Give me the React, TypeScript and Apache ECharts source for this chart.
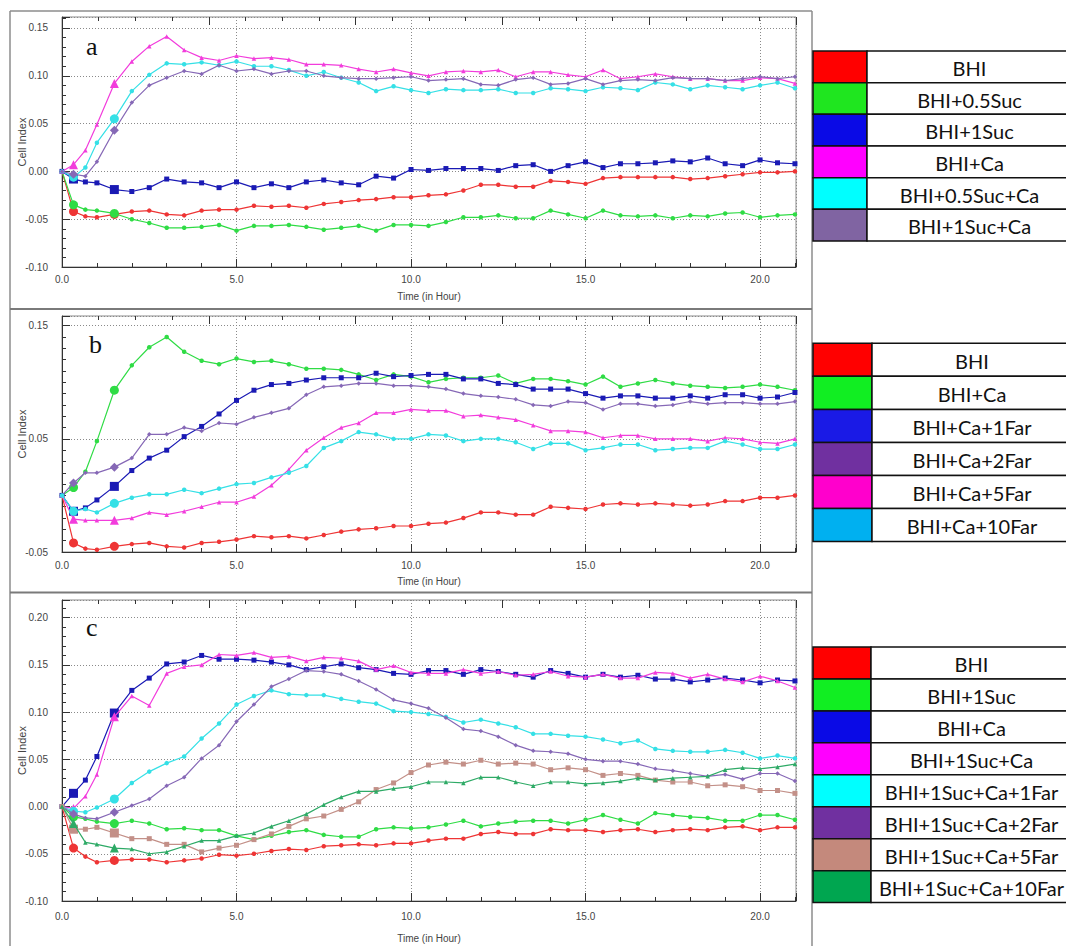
import React, { useEffect, useRef } from "react";
import * as echarts from "echarts";

// ---------------- data ----------------
const TIME = [0, 0.33, 0.67, 1, 1.5, 2, 2.5, 3, 3.5, 4, 4.5, 5, 5.5, 6, 6.5, 7, 7.5, 8, 8.5, 9, 9.5, 10,
  10.5, 11, 11.5, 12, 12.5, 13, 13.5, 14, 14.5, 15, 15.5, 16, 16.5, 17, 17.5, 18, 18.5, 19, 19.5, 20, 20.5, 21];

const X_TICKS = ["0.0", "5.0", "10.0", "15.0", "20.0"];

// Panel a
const A_NAMES = ["BHI", "BHI+0.5Suc", "BHI+1Suc", "BHI+Ca", "BHI+0.5Suc+Ca", "BHI+1Suc+Ca"];
const A_BHI = [0, -0.042, -0.047, -0.048, -0.045, -0.042, -0.041, -0.045, -0.046, -0.041, -0.040, -0.040, -0.036, -0.037, -0.036, -0.038, -0.034, -0.032, -0.030, -0.029, -0.027, -0.027,
  -0.025, -0.024, -0.020, -0.014, -0.014, -0.016, -0.016, -0.010, -0.011, -0.013, -0.007, -0.006, -0.006, -0.006, -0.006, -0.008, -0.007, -0.005, -0.003, -0.001, -0.001, 0.000];
const A_05SUC = [0, -0.035, -0.040, -0.041, -0.044, -0.050, -0.054, -0.059, -0.059, -0.058, -0.056, -0.062, -0.057, -0.057, -0.056, -0.058, -0.061, -0.059, -0.057, -0.062, -0.056, -0.056,
  -0.057, -0.053, -0.048, -0.048, -0.046, -0.049, -0.049, -0.041, -0.045, -0.049, -0.041, -0.046, -0.047, -0.046, -0.049, -0.046, -0.047, -0.044, -0.043, -0.048, -0.046, -0.045];
const A_1SUC = [0, -0.008, -0.011, -0.012, -0.019, -0.021, -0.017, -0.008, -0.011, -0.012, -0.017, -0.011, -0.017, -0.013, -0.017, -0.011, -0.009, -0.012, -0.014, -0.005, -0.007, 0.002,
  0.001, 0.003, 0.003, 0.003, 0.001, 0.006, 0.007, 0.000, 0.006, 0.010, 0.004, 0.008, 0.008, 0.009, 0.011, 0.010, 0.014, 0.008, 0.006, 0.012, 0.009, 0.008];
const A_CA = [0, 0.007, 0.022, 0.049, 0.092, 0.115, 0.131, 0.141, 0.127, 0.119, 0.116, 0.121, 0.118, 0.119, 0.117, 0.112, 0.112, 0.111, 0.107, 0.104, 0.107, 0.103,
  0.100, 0.104, 0.105, 0.104, 0.106, 0.099, 0.104, 0.104, 0.101, 0.099, 0.106, 0.097, 0.099, 0.102, 0.099, 0.097, 0.097, 0.095, 0.095, 0.098, 0.097, 0.092];
const A_05SUCCA = [0, -0.006, 0.004, 0.030, 0.055, 0.084, 0.101, 0.113, 0.112, 0.114, 0.111, 0.115, 0.110, 0.110, 0.106, 0.100, 0.104, 0.098, 0.093, 0.084, 0.089, 0.085,
  0.082, 0.086, 0.085, 0.085, 0.086, 0.082, 0.082, 0.087, 0.086, 0.084, 0.088, 0.087, 0.085, 0.093, 0.091, 0.086, 0.090, 0.088, 0.086, 0.090, 0.093, 0.087];
const A_1SUCCA = [0, -0.003, -0.005, 0.010, 0.043, 0.072, 0.090, 0.098, 0.105, 0.102, 0.111, 0.105, 0.107, 0.102, 0.105, 0.105, 0.100, 0.098, 0.097, 0.097, 0.098, 0.099,
  0.095, 0.096, 0.097, 0.091, 0.090, 0.096, 0.098, 0.091, 0.092, 0.097, 0.091, 0.095, 0.096, 0.095, 0.098, 0.097, 0.097, 0.095, 0.097, 0.099, 0.097, 0.099];

// Panel b
const B_NAMES = ["BHI", "BHI+Ca", "BHI+Ca+1Far", "BHI+Ca+2Far", "BHI+Ca+5Far", "BHI+Ca+10Far"];
const B_BHI = [0, -0.042, -0.047, -0.048, -0.045, -0.043, -0.042, -0.045, -0.046, -0.042, -0.041, -0.039, -0.036, -0.037, -0.036, -0.038, -0.035, -0.032, -0.030, -0.029, -0.027, -0.027,
  -0.025, -0.024, -0.020, -0.015, -0.015, -0.017, -0.017, -0.010, -0.011, -0.012, -0.008, -0.007, -0.008, -0.007, -0.008, -0.009, -0.008, -0.005, -0.005, -0.002, -0.002, 0.000];
const B_CA = [0, 0.007, 0.021, 0.048, 0.093, 0.115, 0.131, 0.140, 0.127, 0.119, 0.116, 0.121, 0.118, 0.119, 0.116, 0.112, 0.112, 0.111, 0.107, 0.102, 0.107, 0.105,
  0.100, 0.103, 0.104, 0.104, 0.106, 0.099, 0.103, 0.103, 0.101, 0.098, 0.105, 0.096, 0.099, 0.102, 0.099, 0.097, 0.096, 0.095, 0.096, 0.098, 0.096, 0.093];
const B_1FAR = [0, -0.014, -0.011, -0.004, 0.008, 0.022, 0.033, 0.040, 0.052, 0.061, 0.072, 0.084, 0.093, 0.098, 0.099, 0.102, 0.104, 0.104, 0.104, 0.108, 0.105, 0.106,
  0.107, 0.107, 0.103, 0.103, 0.099, 0.098, 0.094, 0.094, 0.094, 0.090, 0.086, 0.088, 0.088, 0.086, 0.086, 0.088, 0.086, 0.089, 0.089, 0.086, 0.087, 0.091];
const B_2FAR = [0, 0.011, 0.020, 0.020, 0.025, 0.033, 0.054, 0.054, 0.060, 0.057, 0.064, 0.063, 0.069, 0.073, 0.077, 0.089, 0.096, 0.097, 0.099, 0.099, 0.097, 0.097,
  0.096, 0.094, 0.090, 0.088, 0.087, 0.085, 0.080, 0.079, 0.083, 0.082, 0.076, 0.081, 0.081, 0.079, 0.080, 0.083, 0.081, 0.082, 0.082, 0.081, 0.081, 0.083];
const B_5FAR = [0, -0.021, -0.022, -0.022, -0.022, -0.020, -0.015, -0.017, -0.014, -0.010, -0.006, -0.006, -0.001, 0.009, 0.023, 0.040, 0.051, 0.060, 0.064, 0.073, 0.073, 0.076,
  0.075, 0.075, 0.070, 0.071, 0.069, 0.067, 0.062, 0.057, 0.057, 0.056, 0.051, 0.053, 0.053, 0.050, 0.050, 0.050, 0.048, 0.051, 0.050, 0.047, 0.046, 0.050];
const B_10FAR = [0, -0.014, -0.012, -0.015, -0.007, -0.002, 0.001, 0.001, 0.005, 0.002, 0.006, 0.010, 0.011, 0.016, 0.020, 0.026, 0.042, 0.048, 0.056, 0.054, 0.050, 0.050,
  0.054, 0.053, 0.048, 0.050, 0.050, 0.047, 0.041, 0.046, 0.046, 0.040, 0.042, 0.045, 0.045, 0.040, 0.041, 0.042, 0.042, 0.048, 0.045, 0.041, 0.041, 0.045];

// Panel c
const C_NAMES = ["BHI", "BHI+1Suc", "BHI+Ca", "BHI+1Suc+Ca", "BHI+1Suc+Ca+1Far", "BHI+1Suc+Ca+2Far", "BHI+1Suc+Ca+5Far", "BHI+1Suc+Ca+10Far"];
const C_BHI = [0, -0.044, -0.053, -0.059, -0.057, -0.056, -0.056, -0.059, -0.057, -0.055, -0.051, -0.052, -0.050, -0.047, -0.045, -0.046, -0.042, -0.041, -0.040, -0.041, -0.039, -0.039,
  -0.036, -0.034, -0.034, -0.029, -0.027, -0.029, -0.029, -0.024, -0.025, -0.025, -0.027, -0.025, -0.024, -0.027, -0.025, -0.024, -0.025, -0.022, -0.021, -0.025, -0.022, -0.022];
const C_1SUC = [0, -0.011, -0.013, -0.016, -0.018, -0.015, -0.018, -0.024, -0.023, -0.025, -0.025, -0.031, -0.035, -0.031, -0.027, -0.025, -0.030, -0.032, -0.032, -0.024, -0.022, -0.023,
  -0.022, -0.019, -0.015, -0.021, -0.018, -0.016, -0.015, -0.015, -0.018, -0.014, -0.009, -0.014, -0.018, -0.007, -0.009, -0.011, -0.012, -0.015, -0.015, -0.009, -0.009, -0.014];
const C_CA = [0, 0.014, 0.028, 0.053, 0.099, 0.123, 0.136, 0.151, 0.153, 0.160, 0.156, 0.156, 0.155, 0.153, 0.150, 0.145, 0.148, 0.151, 0.147, 0.145, 0.141, 0.140,
  0.144, 0.144, 0.140, 0.145, 0.143, 0.140, 0.137, 0.144, 0.141, 0.137, 0.140, 0.137, 0.139, 0.135, 0.135, 0.132, 0.134, 0.136, 0.134, 0.131, 0.134, 0.133];
const C_1SUCCA = [0, -0.002, 0.011, 0.034, 0.095, 0.117, 0.107, 0.141, 0.148, 0.150, 0.161, 0.160, 0.163, 0.158, 0.159, 0.154, 0.158, 0.157, 0.154, 0.145, 0.149, 0.142,
  0.141, 0.141, 0.145, 0.141, 0.143, 0.139, 0.140, 0.143, 0.138, 0.137, 0.140, 0.136, 0.136, 0.142, 0.141, 0.136, 0.140, 0.135, 0.132, 0.138, 0.133, 0.126];
const C_1FAR = [0, -0.005, -0.006, -0.001, 0.008, 0.025, 0.037, 0.046, 0.053, 0.072, 0.088, 0.108, 0.117, 0.123, 0.119, 0.118, 0.118, 0.114, 0.111, 0.109, 0.101, 0.100,
  0.098, 0.095, 0.089, 0.092, 0.088, 0.084, 0.077, 0.077, 0.075, 0.074, 0.071, 0.067, 0.070, 0.061, 0.059, 0.058, 0.058, 0.060, 0.057, 0.051, 0.054, 0.051];
const C_2FAR = [0, -0.008, -0.012, -0.013, -0.006, 0.001, 0.008, 0.022, 0.031, 0.051, 0.065, 0.090, 0.108, 0.127, 0.135, 0.144, 0.143, 0.140, 0.133, 0.124, 0.113, 0.109,
  0.104, 0.094, 0.082, 0.080, 0.074, 0.065, 0.059, 0.058, 0.056, 0.050, 0.048, 0.048, 0.045, 0.040, 0.038, 0.035, 0.032, 0.034, 0.029, 0.035, 0.035, 0.027];
const C_5FAR = [0, -0.024, -0.024, -0.022, -0.028, -0.034, -0.034, -0.040, -0.040, -0.048, -0.044, -0.041, -0.035, -0.029, -0.021, -0.013, -0.010, -0.003, 0.005, 0.018, 0.025, 0.036,
  0.044, 0.047, 0.045, 0.049, 0.045, 0.046, 0.045, 0.039, 0.041, 0.039, 0.033, 0.035, 0.033, 0.028, 0.026, 0.026, 0.022, 0.023, 0.021, 0.017, 0.017, 0.014];
const C_10FAR = [0, -0.018, -0.038, -0.040, -0.044, -0.045, -0.050, -0.048, -0.042, -0.036, -0.036, -0.031, -0.028, -0.021, -0.015, -0.008, 0.002, 0.010, 0.016, 0.016, 0.019, 0.021,
  0.026, 0.026, 0.025, 0.031, 0.031, 0.026, 0.022, 0.026, 0.026, 0.024, 0.025, 0.027, 0.030, 0.028, 0.030, 0.031, 0.032, 0.039, 0.041, 0.040, 0.042, 0.045];

const PANEL_LETTERS = ["a", "b", "c"];

// ---------------- styles ----------------
const RED = "#EE3535";
const GREEN = "#2FDC45";
const BLUE = "#1A1AB4";
const MAGENTA = "#F23CDC";
const CYAN = "#35E0E6";
const PURPLE = "#8668B6";
const BROWN = "#C39088";
const DKGREEN = "#2EAA66";

const PANELS = [
  {
    names: A_NAMES,
    values: [A_BHI, A_05SUC, A_1SUC, A_CA, A_05SUCCA, A_1SUCCA],
    lines: [RED, GREEN, BLUE, MAGENTA, CYAN, PURPLE],
    symbols: ["circle", "circle", "rect", "triangle", "circle", "diamond"],
    legend: ["#FF0000", "#1FE61F", "#0A0AE6", "#FF00FF", "#00FFFF", "#8064A2"],
    grid: { left: 62, top: 17, width: 734, height: 250 },
    yMin: -0.1, yMax: 0.1615, yStep: 0.05, yMinor: 5,
    labelMargin: 7, nameGap: 24,
    letter: { x: 86, y: 46 },
    table: { y0: 51, h: 31.67, colRight: 867 },
  },
  {
    names: B_NAMES,
    values: [B_BHI, B_CA, B_1FAR, B_2FAR, B_5FAR, B_10FAR],
    lines: [RED, GREEN, BLUE, PURPLE, MAGENTA, CYAN],
    symbols: ["circle", "circle", "rect", "diamond", "triangle", "circle"],
    legend: ["#FF0000", "#11EE22", "#1A1AE6", "#7030A0", "#FF00CC", "#00B0F0"],
    grid: { left: 62, top: 316, width: 734, height: 236 },
    yMin: -0.05, yMax: 0.1586, yStep: 0.1, yMinor: 10,
    labelMargin: 8, nameGap: 24,
    letter: { x: 89, y: 344 },
    table: { y0: 343.3, h: 33.05, colRight: 872 },
  },
  {
    names: C_NAMES,
    values: [C_BHI, C_1SUC, C_CA, C_1SUCCA, C_1FAR, C_2FAR, C_5FAR, C_10FAR],
    lines: [RED, GREEN, BLUE, MAGENTA, CYAN, PURPLE, BROWN, DKGREEN],
    symbols: ["circle", "circle", "rect", "triangle", "circle", "diamond", "rect", "triangle"],
    legend: ["#FF0000", "#11EE22", "#0A0AE6", "#FF00FF", "#00FFFF", "#7030A0", "#C4897C", "#00A650"],
    grid: { left: 62, top: 600, width: 734, height: 301 },
    yMin: -0.1, yMax: 0.2187, yStep: 0.05, yMinor: 5,
    labelMargin: 10, nameGap: 32,
    letter: { x: 86, y: 627 },
    table: { y0: 647, h: 31.95, colRight: 871 },
  },
];

const X_MAX = 21.03;
const TABLE_RIGHT = 1072;
const AXIS_FONT = "'Liberation Sans', Arial, sans-serif";
const TICK = { color: "#333", width: 1 };

function stepLabel(base: number, step: number, digits: number) {
  return (v: number) => {
    const r = (v - base) / step;
    return Math.abs(r - Math.round(r)) < 1e-6 ? v.toFixed(digits) : "";
  };
}

function buildOption() {
  const grid: any[] = [];
  const xAxis: any[] = [];
  const yAxis: any[] = [];
  const series: any[] = [];
  const graphic: any[] = [];

  PANELS.forEach((p, i) => {
    grid.push({
      ...p.grid,
      show: true,
      borderColor: "#8a8a8a",
      borderWidth: 1,
    });
    xAxis.push({
      type: "value",
      gridIndex: i,
      position: "bottom",
      min: 0,
      max: X_MAX,
      interval: 5,
      axisLine: { show: true, onZero: false, lineStyle: { color: "#333", width: 1 } },
      axisTick: { show: true, inside: true, length: 8, lineStyle: TICK },
      minorTick: { show: true, splitNumber: 5, length: 4, lineStyle: TICK },
      axisLabel: {
        margin: p.labelMargin,
        fontSize: 10,
        color: "#444",
        fontFamily: AXIS_FONT,
        formatter: (v: number) => {
          const idx = Math.round(v / 5);
          return Math.abs(v - idx * 5) < 1e-6 && idx < X_TICKS.length ? X_TICKS[idx] : "";
        },
      },
      splitLine: { show: true, lineStyle: { color: "#8a8a8a", type: [1, 2], width: 1 } },
      name: "Time (in Hour)",
      nameLocation: "middle",
      nameGap: p.nameGap,
      nameMoveOverlap: false,
      nameTextStyle: { fontSize: 10, color: "#444", fontFamily: AXIS_FONT },
    });
    yAxis.push({
      type: "value",
      gridIndex: i,
      min: p.yMin,
      max: p.yMax,
      interval: p.yStep,
      axisLine: { show: true, onZero: false, lineStyle: { color: "#333", width: 1 } },
      axisTick: { show: true, inside: true, length: 8, lineStyle: TICK },
      minorTick: { show: true, splitNumber: p.yMinor, length: 4, lineStyle: TICK },
      axisLabel: {
        margin: 14,
        fontSize: 10,
        color: "#444",
        fontFamily: AXIS_FONT,
        formatter: stepLabel(p.yMin, p.yStep, 2),
      },
      splitLine: { show: true, lineStyle: { color: "#8a8a8a", type: [1, 2], width: 1 } },
      name: "Cell Index",
      nameLocation: "middle",
      nameGap: 35,
      nameMoveOverlap: false,
      nameTextStyle: { fontSize: 11, color: "#444", fontFamily: AXIS_FONT },
    });
  });

  // top (secondary) axes, ticks only
  PANELS.forEach((p, i) => {
    xAxis.push({
      type: "value",
      gridIndex: i,
      position: "top",
      min: 0,
      max: 20,
      interval: 4,
      axisLine: { show: false, onZero: false },
      axisTick: { show: true, inside: true, length: 8, lineStyle: TICK },
      minorTick: { show: true, splitNumber: 4, length: 4, lineStyle: TICK },
      axisLabel: { show: false },
      splitLine: { show: false },
    });
  });

  PANELS.forEach((p, i) => {
    p.values.forEach((vals, k) => {
      series.push({
        type: "line",
        name: p.names[k],
        xAxisIndex: i,
        yAxisIndex: i,
        data: TIME.map((t, j) => [t, vals[j]]),
        symbol: p.symbols[k],
        symbolSize: (_v: any, prm: any) =>
          prm.dataIndex === 1 || prm.dataIndex === 4 ? 9 : p.symbols[k] === "rect" ? 5 : 4.5,
        showSymbol: true,
        lineStyle: { color: p.lines[k], width: 1.2 },
        itemStyle: { color: p.lines[k] },
        emphasis: { disabled: true },
        z: 2 + k,
      });
    });
  });

  // frames
  const frame = "#8c8c8c";
  graphic.push(
    { type: "line", shape: { x1: 10, y1: 11, x2: 812, y2: 11 }, style: { stroke: frame, lineWidth: 1.5 } },
    { type: "line", shape: { x1: 10, y1: 11, x2: 10, y2: 946 }, style: { stroke: frame, lineWidth: 1.5 } },
    { type: "line", shape: { x1: 812, y1: 11, x2: 812, y2: 946 }, style: { stroke: frame, lineWidth: 1.5 } },
    { type: "line", shape: { x1: 10, y1: 309, x2: 812, y2: 309 }, style: { stroke: "#7a7a7a", lineWidth: 2 } },
    { type: "line", shape: { x1: 10, y1: 592.5, x2: 812, y2: 592.5 }, style: { stroke: "#7a7a7a", lineWidth: 2 } }
  );

  // panel letters and legend tables
  PANELS.forEach((p, i) => {
    graphic.push({
      type: "text",
      x: p.letter.x,
      y: p.letter.y,
      z: 20,
      style: {
        text: PANEL_LETTERS[i],
        font: "26px 'Liberation Serif', 'Times New Roman', serif",
        fill: "#111",
        align: "left",
        verticalAlign: "middle",
        textAlign: "left",
        textVerticalAlign: "middle",
      },
    });
    const t = p.table;
    p.names.forEach((name, k) => {
      const y = t.y0 + k * t.h;
      graphic.push({
        type: "rect",
        shape: { x: 813, y, width: t.colRight - 813, height: t.h },
        style: { fill: p.legend[k], stroke: "#111", lineWidth: 1.5 },
      });
      graphic.push({
        type: "rect",
        shape: { x: t.colRight, y, width: TABLE_RIGHT - t.colRight, height: t.h },
        style: { fill: "#fff", stroke: "#111", lineWidth: 1.5 },
      });
      graphic.push({
        type: "text",
        x: (t.colRight + TABLE_RIGHT) / 2,
        y: y + t.h / 2 + 1,
        style: {
          text: name,
          font: "20px Lato, 'Open Sans', sans-serif",
          fill: "#111",
          align: "center",
          verticalAlign: "middle",
          textAlign: "center",
          textVerticalAlign: "middle",
        },
      });
    });
  });

  return {
    animation: false,
    backgroundColor: "#fff",
    grid,
    xAxis,
    yAxis,
    series,
    graphic,
  };
}

export default function App() {
  const ref = useRef<HTMLDivElement>(null);
  useEffect(() => {
    document.body.style.margin = "0";
    if (!ref.current) return;
    const chart = echarts.init(ref.current, undefined, { renderer: "svg" });
    chart.setOption(buildOption() as any);
    return () => chart.dispose();
  }, []);
  return <div ref={ref} style={{ width: 1066, height: 946 }} />;
}
